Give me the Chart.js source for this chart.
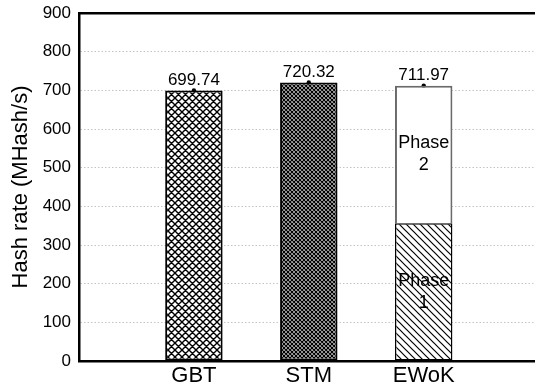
<!DOCTYPE html>
<html>
<head>
<meta charset="utf-8">
<script src="https://cdn.jsdelivr.net/npm/chart.js@4/dist/chart.umd.min.js"></script>
<style>
  html, body { margin: 0; padding: 0; background: #fff; }
  #wrap { width: 538px; height: 388px; position: relative; }
</style>
</head>
<body>
<div id="wrap"><canvas id="chart"></canvas></div>
<script>
// données
const categories = ['GBT', 'STM', 'EWoK'];
const baseRate = [699.74, 720.32, 355.99];   // GBT, STM, EWoK phase 1
const phase2Rate = [null, null, 355.98];      // EWoK phase 2
const totalRate = [699.74, 720.32, 711.97];
const totalLabels = ['699.74', '720.32', '711.97'];
const phaseLabels = [['Phase', '1'], ['Phase', '2']];
const yMin = 0;
const yMax = 900;
const yStep = 100;

const font = '"Liberation Sans", Arial, sans-serif';

// motifs de hachures
function makePattern(size, dirs, lineWidth) {
  const c = document.createElement('canvas');
  c.width = size;
  c.height = size;
  const g = c.getContext('2d');
  g.fillStyle = '#fff';
  g.fillRect(0, 0, size, size);
  g.strokeStyle = '#000';
  g.lineWidth = lineWidth;
  g.beginPath();
  if (dirs.includes('/')) {
    g.moveTo(0, size); g.lineTo(size, 0);
    g.moveTo(-1, 1); g.lineTo(1, -1);
    g.moveTo(size - 1, size + 1); g.lineTo(size + 1, size - 1);
  }
  if (dirs.includes('\\')) {
    g.moveTo(0, 0); g.lineTo(size, size);
    g.moveTo(-1, size - 1); g.lineTo(1, size + 1);
    g.moveTo(size - 1, -1); g.lineTo(size + 1, 1);
  }
  g.stroke();
  return g.createPattern(c, 'repeat');
}

const ctx = document.getElementById('chart').getContext('2d');
const gbtFill = makePattern(7, '/\\', 1.4);
const stmFill = makePattern(4, '/\\', 1.3);
const phase1Fill = makePattern(7, '\\', 1.2);

const labelPlugin = {
  id: 'barLabels',
  afterDatasetsDraw(chart) {
    const c = chart.ctx;
    c.save();
    c.fillStyle = '#000';
    c.textAlign = 'center';
    // valeurs au-dessus des barres
    const dots = chart.getDatasetMeta(2);
    c.font = '17px ' + font;
    c.textBaseline = 'bottom';
    dots.data.forEach((pt, i) => {
      c.fillText(totalLabels[i], pt.x, pt.y - 2);
    });
    // texte Phase 1 / Phase 2
    c.font = '18px ' + font;
    c.textBaseline = 'middle';
    const seg1 = chart.getDatasetMeta(0).data[2];
    const seg2 = chart.getDatasetMeta(1).data[2];
    [seg1, seg2].forEach((bar, k) => {
      const p = bar.getCenterPoint();
      c.fillText(phaseLabels[k][0], p.x, p.y - 11);
      c.fillText(phaseLabels[k][1], p.x, p.y + 11);
    });
    c.restore();
  }
};

new Chart(ctx, {
  type: 'bar',
  data: {
    datasets: [
      {
        label: 'base',
        stack: 'bars',
        data: categories.map((c, i) => ({ x: i + 1, y: baseRate[i] })),
        backgroundColor: [gbtFill, stmFill, phase1Fill],
        borderColor: '#000',
        borderWidth: [2, 2, 1.5],
        borderSkipped: false,
        barPercentage: 1,
        categoryPercentage: 0.5
      },
      {
        label: 'phase2',
        stack: 'bars',
        data: categories.map((c, i) => ({ x: i + 1, y: phase2Rate[i] })),
        backgroundColor: '#fff',
        borderColor: '#6a6a6a',
        borderWidth: 2,
        barPercentage: 1,
        categoryPercentage: 0.5
      },
      {
        type: 'line',
        label: 'total',
        stack: 'dots',
        data: categories.map((c, i) => ({ x: i + 1, y: totalRate[i] })),
        showLine: false,
        pointRadius: 2.2,
        pointBackgroundColor: '#000',
        pointBorderWidth: 0
      }
    ]
  },
  options: {
    responsive: true,
    maintainAspectRatio: false,
    animation: false,
    layout: { padding: { top: 13, right: 0, left: 0, bottom: 0 } },
    plugins: {
      legend: { display: false },
      tooltip: { enabled: false }
    },
    scales: {
      x: {
        type: 'linear',
        stacked: true,
        offset: false,
        min: 0,
        max: 3.96,
        afterBuildTicks: (scale) => {
          scale.ticks = categories.map((c, i) => ({ value: i + 1 }));
        },
        afterFit: (scale) => {
          scale.height = 27;
          scale.paddingLeft = 0;
          scale.paddingRight = 0;
        },
        grid: { display: false, drawTicks: false },
        border: { display: true, color: '#000', width: 2.5 },
        ticks: {
          padding: 2,
          color: '#000',
          font: { family: font, size: 22 },
          maxRotation: 0,
          autoSkip: false,
          callback: (v) => categories[v - 1] || ''
        }
      },
      xTop: {
        type: 'linear',
        position: 'top',
        min: 0,
        max: 1,
        afterFit: (scale) => { scale.height = 0; },
        grid: { display: false, drawTicks: false },
        border: { display: true, color: '#000', width: 2.5 },
        ticks: { display: false }
      },
      y: {
        stacked: true,
        min: yMin,
        max: yMax,
        afterFit: (scale) => {
          scale.width = 79;
          scale.paddingTop = 0;
          scale.paddingBottom = 0;
        },
        ticks: {
          stepSize: yStep,
          padding: 8,
          color: '#000',
          font: { family: font, size: 17 }
        },
        grid: {
          drawTicks: false,
          lineWidth: 1,
          color: (c) => (c.tick && c.tick.value > yMin && c.tick.value < yMax) ? '#c4c4c4' : 'rgba(0,0,0,0)'
        },
        border: { display: true, color: '#000', width: 2.5, dash: [1.5, 2] },
        title: {
          display: true,
          text: 'Hash rate (MHash/s)',
          color: '#000',
          font: { family: font, size: 22 },
          padding: { top: 8, bottom: 0 }
        }
      }
    }
  },
  plugins: [labelPlugin]
});
</script>
</body>
</html>
